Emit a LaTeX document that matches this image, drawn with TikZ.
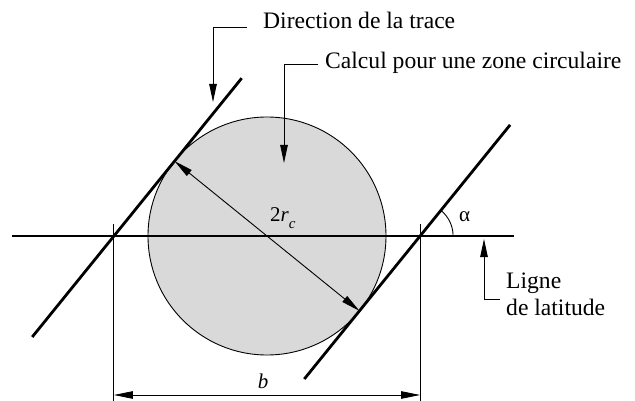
\documentclass[tikz,border=0pt]{standalone}
\usepackage{fontspec}
\setmainfont{LiberationSerif}[Extension=.ttf, UprightFont=*-Regular, ItalicFont=*-Italic, BoldFont=*-Bold]
\usetikzlibrary{arrows.meta,calc}
\begin{document}
\begin{tikzpicture}[x=1pt,y=-1pt,
  thickline/.style={line width=2.8pt},
  thinline/.style={line width=0.9pt},
  tipone/.style={-{Triangle[length=18pt,width=7.5pt]}},
  tiptwo/.style={{Triangle[length=19pt,width=7.5pt]}-{Triangle[length=19pt,width=7.5pt]}},
  lbl/.style={font=\fontsize{23.6}{27}\selectfont, inner sep=0pt, anchor=base west},
  small/.style={font=\fontsize{21}{24}\selectfont, inner sep=0pt},
]
\useasboundingbox (0,0) rectangle (635,401);

% circular zone
\node[circle, draw, line width=0.9pt, fill=black!15, minimum size=238pt, inner sep=0pt] (zone) at (267,236) {};

% key points
\coordinate (P1) at (113.9,236);
\coordinate (P2) at (420.1,236);
\coordinate (L1a) at (32.2,337);
\coordinate (L1b) at (241.7,78.2);
\coordinate (L2a) at (304.3,379);
\coordinate (L2b) at (510.1,124.9);
\coordinate (T1) at (174.5,161.1);
\coordinate (T2) at (359.5,310.9);
\coordinate (H1) at (12,236);
\coordinate (H2) at (514,236);

% latitude line and track lines
\draw[thickline] (H1) -- (H2);
\draw[thickline] (L1a) -- (L1b);
\draw[thickline] (L2a) -- (L2b);

% diameter
\draw[thinline, tiptwo] (T1) -- (T2);

% extension lines and dimension b
\coordinate (E1t) at (113.9,224);
\coordinate (E1b) at (113.9,401);
\coordinate (E2t) at (420.1,224);
\coordinate (E2b) at (420.1,401);
\draw[thinline] (E1t) -- (E1b);
\draw[thinline] (E2t) -- (E2b);
\coordinate (B1) at (113.9,395);
\coordinate (B2) at (420.1,395);
\draw[thinline, tiptwo] (B1) -- (B2);

% angle alpha
\draw[thinline] ($(P2)+(33,0)$) arc[start angle=0, end angle=51, radius=33pt];

% labels
\node[lbl] (t1) at (263,29) {Direction de la trace};
\node[lbl] (t2) at (325,69) {Calcul pour une zone circulaire};
\node[lbl, anchor=north west, align=left] (t3) at (506,272.4) {Ligne\\de latitude};
\node[small, anchor=base west] (al) at (459,222) {α};
\node[small, anchor=base west] (dia) at (270,222) {2\textit{r}\raisebox{-0.3em}{\fontsize{15}{16}\selectfont\itshape c}};
\node[small, anchor=base] (bl) at (263,388) {\textit{b}};

% leaders
\coordinate (a1s) at (247,27);
\coordinate (a1e) at (213,102);
\draw[thinline, tipone] (a1s) -| (a1e);
\coordinate (a2s) at (318,64);
\coordinate (a2e) at (284,163);
\draw[thinline, tipone] (a2s) -| (a2e);
\coordinate (a3s) at (500,299);
\coordinate (a3e) at (484,239);
\draw[thinline, tipone] (a3s) -| (a3e);
\end{tikzpicture}
\end{document}
